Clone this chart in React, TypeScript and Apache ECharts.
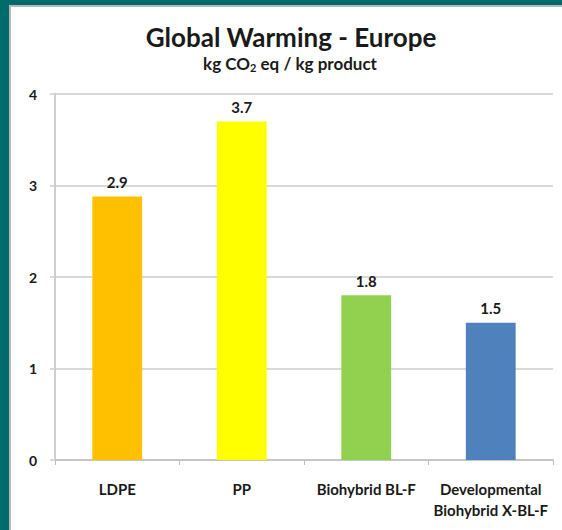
import React, { useEffect, useRef } from "react";
import * as echarts from "echarts";

const categories = ["LDPE", "PP", "Biohybrid BL-F", "Developmental\nBiohybrid X-BL-F"];
const values = [2.88, 3.7, 1.8, 1.5];
const barColors = ["#FFC000", "#FFFF00", "#92D050", "#4F81BD"];
const yTicks = [0, 1, 2, 3, 4];

const FONT = "Lato, 'Open Sans', sans-serif";

export default function App() {
  const ref = useRef<HTMLDivElement>(null);
  useEffect(() => {
    document.body.style.margin = "0";
    const chart = echarts.init(ref.current!, null, { renderer: "svg" });
    chart.setOption({
      animation: false,
      backgroundColor: "#006B6B",
      graphic: [
        { type: "rect", shape: { x: 9, y: 5, width: 560, height: 530 }, style: { fill: "#B8B8B8" }, z: -10 },
        { type: "rect", shape: { x: 11, y: 7, width: 560, height: 530 }, style: { fill: "#FFFFFF" }, z: -9 },
        {
          type: "text",
          x: 291,
          y: 24,
          style: {
            text: "Global Warming - Europe",
            font: `bold 26px ${FONT}`,
            fill: "#1a1a1a",
            align: "center",
          },
        },
        {
          type: "text",
          x: 290,
          y: 53,
          style: {
            text: "{a|kg CO}{s|2}{a| eq / kg product}",
            align: "center",
            rich: {
              a: { font: `bold 17px ${FONT}`, fill: "#1a1a1a" },
              s: { font: `bold 11px ${FONT}`, fill: "#1a1a1a", padding: [9, 0, 0, 0] },
            },
          },
        },
      ],
      grid: { left: 55, right: 9, top: 94, bottom: 70 },
      xAxis: {
        type: "category",
        data: categories,
        axisLine: { lineStyle: { color: "#BFBFBF", width: 1.5 } },
        axisTick: { show: true, length: 5, lineStyle: { color: "#BFBFBF" } },
        axisLabel: {
          color: "#1a1a1a",
          fontFamily: FONT,
          fontWeight: "bold",
          fontSize: 15,
          margin: 18,
          lineHeight: 21,
          interval: 0,
        },
      },
      yAxis: {
        type: "value",
        min: yTicks[0],
        max: yTicks[yTicks.length - 1],
        interval: 1,
        axisLine: { show: true, lineStyle: { color: "#BFBFBF", width: 1.5 } },
        axisTick: { show: true, length: 5, lineStyle: { color: "#D9D9D9", width: 2 } },
        splitLine: { lineStyle: { color: "#D9D9D9", width: 2 } },
        axisLabel: {
          color: "#1a1a1a",
          fontFamily: FONT,
          fontWeight: "bold",
          fontSize: 14,
          margin: 18,
        },
      },
      series: [
        {
          type: "bar",
          barWidth: "40%",
          data: values.map((v, i) => ({ value: v, itemStyle: { color: barColors[i] } })),
          label: {
            show: true,
            position: "top",
            distance: 7,
            formatter: (p: any) => Number(p.value).toFixed(1),
            color: "#1a1a1a",
            fontFamily: FONT,
            fontWeight: "bold",
            fontSize: 15,
          },
        },
      ],
    });
    return () => chart.dispose();
  }, []);
  return <div ref={ref} style={{ width: 562, height: 530 }} />;
}
